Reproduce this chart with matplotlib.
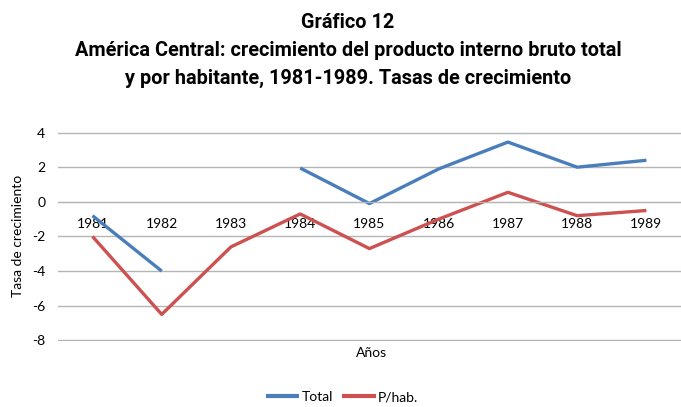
import numpy as np
import matplotlib.pyplot as plt

years = ["1981", "1982", "1983", "1984", "1985", "1986", "1987", "1988", "1989"]
total = [-0.8, -4.0, np.nan, 1.95, -0.1, 1.9, 3.45, 2.0, 2.4]
per_hab = [-2.0, -6.5, -2.6, -0.7, -2.7, -1.0, 0.55, -0.8, -0.5]
yticks = [-8, -6, -4, -2, 0, 2, 4]

plt.rcParams['font.family'] = ['Lato', 'DejaVu Sans']

fig = plt.figure(figsize=(6.81, 4.07), dpi=100)
ax = fig.add_axes([0.085, 0.162, 0.915, 0.514])

x = np.arange(len(years))
ax.plot(x, total, color="#4a7ebb", lw=2.4, label="Total", solid_capstyle="butt")
ax.plot(x, per_hab, color="#cd5151", lw=2.4, label="P/hab.", solid_capstyle="butt")

ax.set_xlim(-0.5, len(years) - 0.5)
ax.set_ylim(-8.04, 4.04)
ax.set_yticks(yticks)
ax.set_yticklabels([str(v) for v in yticks], fontsize=10)
ax.yaxis.grid(True, color="#b5b5b5", lw=1)
ax.set_axisbelow(True)

for s in ["top", "right", "left"]:
    ax.spines[s].set_visible(False)
ax.spines["bottom"].set_position(("data", 0))
ax.spines["bottom"].set_color("#b5b5b5")
ax.set_xticks(x)
ax.set_xticklabels(years, fontsize=10)
ax.tick_params(axis="both", length=0)
ax.tick_params(axis="x", pad=12)
ax.tick_params(axis="y", pad=9)

fig.text(18 / 681, 1 - 236 / 407, "Tasa de crecimiento", rotation=90,
         ha="center", va="center", fontsize=10)
fig.text(372 / 681, 1 - 353 / 407, "Años", ha="center", va="center", fontsize=10)

leg = fig.legend(loc="center", bbox_to_anchor=(342 / 681, 1 - 397 / 407), ncol=2,
                 frameon=False, fontsize=10, handlelength=2.4, columnspacing=0.7,
                 handletextpad=0.15)
for h in leg.get_lines():
    h.set_linewidth(3)

title_kw = dict(ha="center", va="center", fontsize=14.3, fontweight="bold",
                family=["Roboto", "DejaVu Sans"])
fig.text(348 / 681, 1 - 22 / 407, "Gráfico 12", **title_kw)
fig.text(348 / 681, 1 - 50 / 407,
         "América Central: crecimiento del producto interno bruto total", **title_kw)
fig.text(348 / 681, 1 - 78 / 407,
         "y por habitante, 1981-1989. Tasas de crecimiento", **title_kw)

fig.savefig("out.png", dpi=100)
